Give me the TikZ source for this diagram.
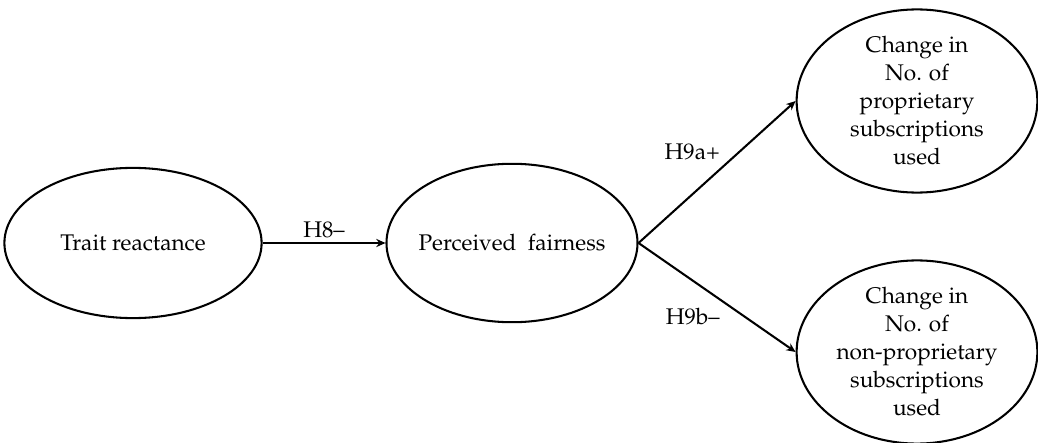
\documentclass[tikz,border=0pt]{standalone}
\usepackage[T1]{fontenc}
\usepackage{mathpazo}
\usetikzlibrary{shapes.geometric,arrows.meta}

\begin{document}
\begin{tikzpicture}[
        x=0.486pt, y=-0.486pt,
        every node/.style={font=\fontsize{11}{13.6}\selectfont, align=center},
        construct/.style={ellipse, draw=black, line width=1pt, inner sep=0pt},
        path/.style={-{Stealth[length=4.5pt,width=4pt]}, line width=1pt},
        hyp/.style={inner sep=2pt}
        ]
        \useasboundingbox (0,0) rectangle (1038,443);

        \node [construct, minimum width=125pt, minimum height=73pt] (trait) at (133,243) {Trait reactance};
        \node [construct, inner sep=-2.5pt, minimum width=122pt, minimum height=77pt] (fair) at (512,243) {Perceived\ \ fairness};
        \node [construct, minimum width=117pt, minimum height=89pt] (prop) at (917,101)
            {Change in\\No. of\\proprietary\\subscriptions\\used};
        \node [construct, minimum width=117pt, minimum height=89pt] (nonprop) at (917,352)
            {Change in\\No. of\\non-proprietary\\subscriptions\\used};

        \draw [path] (trait.east) -- node [hyp, above] {H8--} (fair.west);
        \draw [path] (fair.east) -- node [hyp, pos=0.55, above left] {H9a+} (prop.west);
        \draw [path] (fair.east) -- node [hyp, pos=0.55, below left] {H9b--} (nonprop.west);
    \end{tikzpicture}
\end{document}
